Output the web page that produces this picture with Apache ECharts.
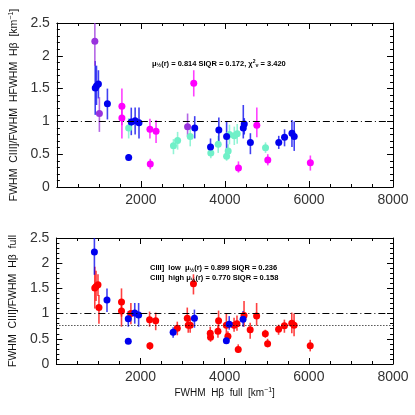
<!DOCTYPE html>
<html><head><meta charset="utf-8">
<script src="https://cdn.jsdelivr.net/npm/echarts@6/dist/echarts.min.js"></script>
<style>html,body{margin:0;padding:0;background:#fff}#c{width:415px;height:415px}</style>
</head><body><div id="c"></div>
<script>
// Each point: [FWHM Hβ, ratio, lower error end, upper error end]
const topPurple = [
  [904, 2.22, 1.85, 2.6], [1012, 1.12, 0.84, 1.37], [3111, 0.92, 0.77, 1.12]
];
const topBlue = [
  [913, 1.51, 1.10, 1.92], [943, 1.54, 1.25, 1.85], [989, 1.57, 1.35, 1.78],
  [1203, 1.27, 1.03, 1.50], [1709, 0.45, 0.40, 0.50], [1771, 0.99, 0.79, 1.21],
  [1863, 1.01, 0.80, 1.21], [1955, 0.98, 0.74, 1.21], [3281, 0.90, 0.74, 1.08],
  [3657, 0.61, 0.50, 0.74], [3855, 0.87, 0.70, 1.06], [4040, 0.77, 0.52, 1.00],
  [4437, 0.90, 0.74, 1.25], [4460, 0.96, 0.80, 1.05], [4606, 0.68, 0.50, 0.82],
  [5281, 0.68, 0.58, 0.78], [5419, 0.76, 0.62, 0.88], [5595, 0.82, 0.61, 1.02],
  [5649, 0.77, 0.55, 1.00]
];
const topMagenta = [
  [1548, 1.23, 0.94, 1.50], [1548, 1.05, 0.74, 1.25], [2215, 0.88, 0.74, 1.04],
  [2361, 0.85, 0.67, 1.02], [2223, 0.35, 0.27, 0.43], [3258, 1.58, 1.38, 1.78],
  [4322, 0.29, 0.22, 0.39], [4759, 0.94, 0.76, 1.21], [5020, 0.41, 0.33, 0.50],
  [6033, 0.37, 0.25, 0.48]
];
const topAqua = [
  [1709, 0.90, 0.74, 1.05], [2775, 0.63, 0.50, 0.73], [2874, 0.71, 0.57, 0.84],
  [3174, 0.77, 0.62, 0.90], [3664, 0.52, 0.44, 0.60], [3840, 0.65, 0.52, 0.78],
  [4040, 0.47, 0.40, 0.55], [4077, 0.55, 0.45, 0.65], [4108, 0.80, 0.65, 0.95],
  [4223, 0.78, 0.64, 0.92], [4292, 0.81, 0.66, 0.96], [4966, 0.60, 0.52, 0.68]
];
const botBlue = [
  [904, 2.22, 1.77, 2.6], [1203, 1.27, 1.03, 1.50], [1709, 0.90, 0.74, 1.05],
  [1709, 0.45, 0.40, 0.50], [1863, 1.01, 0.80, 1.21], [1955, 0.97, 0.74, 1.21],
  [2775, 0.63, 0.52, 0.73], [3281, 0.91, 0.72, 1.08], [4040, 0.46, 0.40, 0.55],
  [4108, 0.79, 0.68, 0.95], [4437, 0.89, 0.74, 1.05]
];
const botRed = [
  [913, 1.51, 1.10, 1.93], [943, 1.54, 1.25, 1.85], [989, 1.57, 1.35, 1.78],
  [1012, 1.12, 0.80, 1.37], [1548, 1.23, 0.94, 1.50], [1548, 1.05, 0.74, 1.25],
  [1771, 1.00, 0.79, 1.21], [2215, 0.88, 0.74, 1.04], [2361, 0.86, 0.67, 1.02],
  [2223, 0.36, 0.28, 0.43], [2874, 0.71, 0.57, 0.84], [3111, 0.91, 0.77, 1.12],
  [3134, 0.77, 0.62, 0.90], [3180, 0.77, 0.62, 0.90], [3258, 1.59, 1.38, 1.78],
  [3657, 0.61, 0.50, 0.74], [3664, 0.53, 0.44, 0.60], [3840, 0.65, 0.52, 0.78],
  [3855, 0.86, 0.70, 1.06], [4040, 0.77, 0.52, 1.00], [4077, 0.55, 0.45, 0.65],
  [4223, 0.77, 0.64, 0.92], [4292, 0.80, 0.66, 0.96], [4322, 0.29, 0.22, 0.39],
  [4460, 0.96, 0.74, 1.25], [4606, 0.68, 0.50, 0.82], [4759, 0.95, 0.76, 1.21],
  [4966, 0.60, 0.52, 0.68], [5020, 0.40, 0.33, 0.50], [5281, 0.69, 0.58, 0.78],
  [5419, 0.76, 0.62, 0.88], [5595, 0.81, 0.61, 1.02], [5649, 0.77, 0.55, 1.00],
  [6033, 0.36, 0.25, 0.48]
];
const unityLine = 1;
const highMedian = 0.770;
const xMin = 0, xMax = 8000, xStep = 2000;
const yMin = 0, yMax = 2.5, yStep = 0.5;

const chart = echarts.init(document.getElementById('c'), null, {renderer: 'canvas'});
const font = 'Liberation Sans, Arial, Helvetica, sans-serif';

function xAx(grid, pos, labels, name) {
  return {
    gridIndex: grid, type: 'value', position: pos, min: xMin, max: xMax, interval: xStep,
    axisLine: {show: true, onZero: false, lineStyle: {color: '#000', width: 1}},
    axisTick: {show: true, inside: true, length: 6, lineStyle: {color: '#000'}},
    minorTick: {show: true, splitNumber: 4, length: 3, lineStyle: {color: '#000'}},
    splitLine: {show: false},
    axisLabel: {show: labels, margin: 6, fontSize: 14, color: '#333', fontFamily: font,
      formatter: v => (v === 0 ? '' : String(v))},
    name: name || '', nameLocation: 'middle', nameGap: 23,
    nameTextStyle: {fontSize: 10, color: '#111', fontFamily: font,
      rich: {n: {fontSize: 10, fontFamily: font, color: '#111'},
             sup: {fontSize: 7, fontFamily: font, color: '#111', verticalAlign: 'top', padding: [0, 0, 5, 0]}}}
  };
}
function yAx(grid, pos, labels, name) {
  return {
    gridIndex: grid, type: 'value', position: pos, min: yMin, max: yMax, interval: yStep,
    axisLine: {show: true, onZero: false, lineStyle: {color: '#000', width: 1}},
    axisTick: {show: true, inside: true, length: 6, lineStyle: {color: '#000'}},
    minorTick: {show: true, splitNumber: 5, length: 3, lineStyle: {color: '#000'}},
    splitLine: {show: false},
    axisLabel: {show: labels, margin: 7, fontSize: 14, color: '#333', fontFamily: font},
    name: name || '', nameLocation: 'middle', nameGap: 31,
    nameTextStyle: {fontSize: 10.5, color: '#111', fontFamily: font,
      rich: {n: {fontSize: 10.5, fontFamily: font, color: '#111'},
             sup: {fontSize: 7, fontFamily: font, color: '#111', padding: [0, 0, 5, 0]}}}
  };
}

function errBars(data, color, idx) {
  return {
    type: 'custom', xAxisIndex: idx[0], yAxisIndex: idx[1], clip: true, silent: true, z: 2,
    encode: {x: 0, y: 1},
    renderItem: (params, api) => {
      const p1 = api.coord([api.value(0), api.value(2)]);
      const p2 = api.coord([api.value(0), api.value(3)]);
      return {type: 'line', shape: {x1: p1[0], y1: p1[1], x2: p2[0], y2: p2[1]},
        style: {stroke: color, lineWidth: 1.6, opacity: 0.75}};
    },
    data: data
  };
}
function points(data, color, idx, extra) {
  return Object.assign({
    type: 'scatter', xAxisIndex: idx[0], yAxisIndex: idx[1], symbol: 'circle', symbolSize: 7,
    itemStyle: {color: color, opacity: 1}, z: 3, silent: true, clip: true,
    encode: {x: 0, y: 1}, data: data
  }, extra || {});
}
function refLines(vals) {
  return {silent: true, symbol: 'none', label: {show: false}, animation: false,
    data: vals.map(v => ({yAxis: v[0], lineStyle: {color: '#000', width: 1, type: v[1]}}))};
}

const cPurple = '#9933dd', cBlue = '#0000ee', cMag = '#ff00ff', cAqua = '#70f0c8', cRed = '#ff0000';
const T = [0, 0], B = [2, 2];

chart.setOption({
  animation: false,
  backgroundColor: '#fff',
  grid: [
    {left: 45, top: 23, width: 348, height: 164},
    {left: 45, top: 238, width: 348, height: 126}
  ],
  xAxis: [
    xAx(0, 'bottom', true), xAx(0, 'top', false),
    xAx(1, 'bottom', true, '{n|FWHM  Hβ  full  [km}{sup|−1}{n|]}'), xAx(1, 'top', false)
  ],
  yAxis: [
    yAx(0, 'left', true, '{n|FWHM  CIII]/FWHM  HFWHM  Hβ  [km}{sup|−1}{n|]}'), yAx(0, 'right', false),
    yAx(1, 'left', true, '{n|FWHM  CIII]/FWHM  Hβ  full}'), yAx(1, 'right', false)
  ],
  series: [
    errBars(topAqua, cAqua, T), errBars(topMagenta, cMag, T), errBars(topBlue, cBlue, T), errBars(topPurple, cPurple, T),
    points(topAqua, cAqua, T, {markLine: refLines([[unityLine, [7, 3, 1, 3]]])}),
    points(topMagenta, cMag, T), points(topBlue, cBlue, T), points(topPurple, cPurple, T),
    errBars(botRed, cRed, B), errBars(botBlue, cBlue, B),
    points(botRed, cRed, B, {markLine: refLines([[unityLine, [7, 3, 1, 3]], [highMedian, [1, 2]]])}),
    points(botBlue, cBlue, B)
  ],
  graphic: [
    {type: 'text', left: 152, top: 59, z: 10, style: {
      text: '{a|μ}{s|½}{a|(r) = 0.814 SIQR = 0.172, χ}{p|2}{s|ν}{a| = 3.420}',
      rich: {a: {fontSize: 7.5, fontWeight: 'bold', fontFamily: font, fill: '#000'},
             s: {fontSize: 5.5, fontWeight: 'bold', fontFamily: font, fill: '#000', padding: [4, 0, 0, 0]},
             p: {fontSize: 5, fontWeight: 'bold', fontFamily: font, fill: '#000', padding: [0, 0, 4, 0]}}}},
    {type: 'text', left: 150, top: 263, z: 10, style: {
      text: '{a|CIII]  low  μ}{s|½}{a|(r) = 0.899 SIQR = 0.236}\n{a|CIII]  high μ}{s|½}{a|(r) = 0.770 SIQR = 0.158}',
      rich: {a: {fontSize: 7.5, fontWeight: 'bold', fontFamily: font, fill: '#000', lineHeight: 10},
             s: {fontSize: 5.5, fontWeight: 'bold', fontFamily: font, fill: '#000', padding: [4, 0, 0, 0], lineHeight: 10}}}}
  ]
});
</script></body></html>
